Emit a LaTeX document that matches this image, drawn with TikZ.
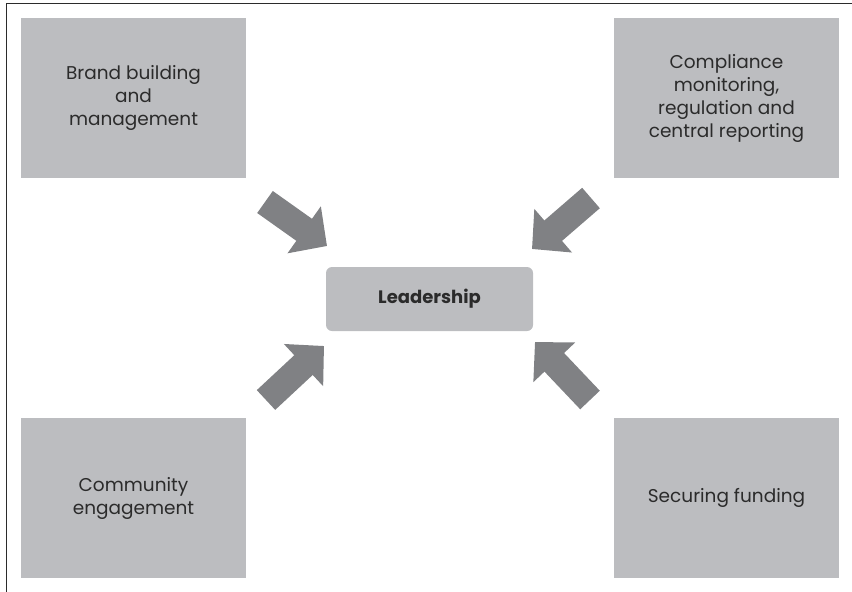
\documentclass[tikz,border=0pt]{standalone}
\usepackage{fontspec}
\setmainfont{Poppins}
\usetikzlibrary{calc}
\usetikzlibrary{positioning}
\usetikzlibrary{arrows.meta}
\definecolor{boxgray}{HTML}{BCBDC0}
\definecolor{arrowgray}{HTML}{808184}
\definecolor{textgray}{HTML}{2B2B2B}
\tikzstyle{taskbox} = [fill=boxgray, minimum width=225pt, minimum height=160pt, align=center, text=textgray, font=\fontsize{18.5}{23}\selectfont]
\tikzstyle{leadbox} = [fill=boxgray, rounded corners=6pt, minimum width=207pt, minimum height=64pt, text=textgray, font=\fontsize{18}{22}\selectfont\bfseries]
\tikzstyle{bigarrow} = [draw=arrowgray, line width=27pt, -{Triangle[width=56pt, length=28pt, fill=arrowgray]}]

\begin{document}
\begin{tikzpicture}[x=1pt, y=-1pt]
    \useasboundingbox (0,0) rectangle (852,592);
    \draw[textgray, line width=1.6pt] (6.5,592) -- (6.5,3.5) -- (852,3.5);

    \node[leadbox] (lead) at (429.5,299) {Leadership};

    \node[taskbox] (brand) at (133.5,98) {Brand building\\and\\management};
    \node[taskbox] (comply) at (726.5,98) {Compliance\\monitoring,\\regulation and\\central reporting};
    \node[taskbox] (community) at (133.5,498) {Community\\engagement};
    \node[taskbox] (funding) at (726.5,498) {Securing funding};

    \coordinate (brand_tail) at (265,202);
    \coordinate (brand_tip) at (327,246);
    \coordinate (comply_tail) at (591,198);
    \coordinate (comply_tip) at (532,249);
    \coordinate (community_tail) at (266,400);
    \coordinate (community_tip) at (324,346);
    \coordinate (funding_tail) at (590,400);
    \coordinate (funding_tip) at (535,342);

    \draw[bigarrow] (brand_tail) -- (brand_tip);
    \draw[bigarrow] (comply_tail) -- (comply_tip);
    \draw[bigarrow] (community_tail) -- (community_tip);
    \draw[bigarrow] (funding_tail) -- (funding_tip);
\end{tikzpicture}
\end{document}
